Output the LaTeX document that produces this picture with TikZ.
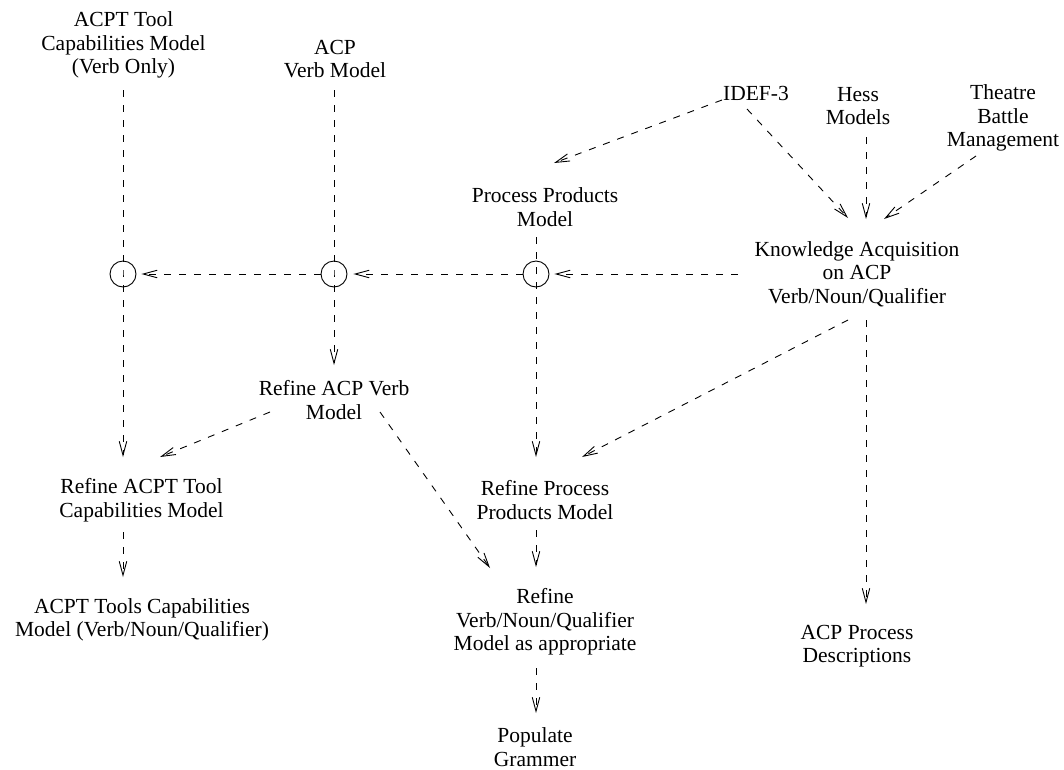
\documentclass[tikz,border=0pt]{standalone}
\usepackage{fontspec}
\setmainfont{Liberation Serif}
\usetikzlibrary{arrows.meta}
\begin{document}
\begin{tikzpicture}[x=1pt,y=-1pt,
  lbl/.style={align=center,inner sep=0pt,font=\fontsize{21.5}{23.5}\selectfont},
  dl/.style={line width=0.9pt,dash pattern=on 7pt off 8pt},
  arr/.style={dl,-{Straight Barb[length=14pt,width=7.5pt,line width=0.9pt]}},
  junc/.style={circle,draw,line width=0.9pt,minimum size=26pt,inner sep=0pt}]
\useasboundingbox (0,0) rectangle (1064,769);

% text nodes
\node[lbl] (A) at (123.5,45) {ACPT Tool\\Capabilities Model\\(Verb Only)};
\node[lbl] (B) at (335,59) {ACP\\Verb Model};
\node[lbl] (idef) at (756,93) {IDEF-3};
\node[lbl] (hess) at (858,106) {Hess\\Models};
\node[lbl] (tbm) at (1003,118) {Theatre\\Battle\\Management};
\node[lbl] (pp) at (545,207) {Process Products\\Model};
\node[lbl] (kn) at (857,274) {Knowledge Acquisition\\on ACP\\Verb/Noun/Qualifier};
\node[lbl] (rv) at (334,400) {Refine ACP Verb\\Model};
\node[lbl] (ra) at (141.5,500) {Refine ACPT Tool\\Capabilities Model};
\node[lbl] (rpp) at (545,500) {Refine Process\\Products Model};
\node[lbl] (tools) at (142,620) {ACPT Tools Capabilities\\Model (Verb/Noun/Qualifier)};
\node[lbl] (rvnq) at (545,622) {Refine\\Verb/Noun/Qualifier\\Model as appropriate};
\node[lbl] (desc) at (857,646) {ACP Process\\Descriptions};
\node[lbl] (pop) at (535,747) {Populate\\Grammer};

% junctions
\node[junc] (c1) at (123,274) {};
\node[junc] (c2) at (334,274) {};
\node[junc] (c3) at (536,274) {};

% connector end points
\coordinate (Ao) at (123,90);
\coordinate (raI) at (123,457);
\coordinate (Bo) at (334,90);
\coordinate (rvI) at (334,365);
\coordinate (ppo) at (536,237);
\coordinate (rppI) at (536,457);
\coordinate (idefo1) at (722,100);
\coordinate (ppI) at (554,163);
\coordinate (idefo2) at (747,109);
\coordinate (knI1) at (848,218);
\coordinate (hesso) at (866,137);
\coordinate (knI2) at (866,219);
\coordinate (tbmo) at (976,156);
\coordinate (knI3) at (884,219);
\coordinate (kno1) at (738,274);
\coordinate (kno2) at (848,320);
\coordinate (rppI2) at (582,457);
\coordinate (kno3) at (866,320);
\coordinate (descI) at (866,604);
\coordinate (rvo1) at (270,412);
\coordinate (raI2) at (160,457);
\coordinate (rvo2) at (380,412);
\coordinate (rvnqI1) at (490,568);
\coordinate (rao) at (123,532);
\coordinate (toolsI) at (123,577);
\coordinate (rppo) at (536,530);
\coordinate (rvnqI2) at (536,567);
\coordinate (rvnqo) at (536,668);
\coordinate (popI) at (536,713);

% connectors
\draw[arr] (Ao) -- (c1.center) -- (raI);
\draw[arr] (Bo) -- (c2.center) -- (rvI);
\draw[arr] (ppo) -- (c3.center) -- (rppI);
\draw[arr] (kno1) -- ([xshift=5pt]c3.east);
\draw[arr] (c3.west) -- ([xshift=6pt]c2.east);
\draw[arr] (c2.west) -- ([xshift=5pt]c1.east);
\draw[arr] (idefo1) -- (ppI);
\draw[arr] (idefo2) -- (knI1);
\draw[arr] (hesso) -- (knI2);
\draw[arr] (tbmo) -- (knI3);
\draw[arr] (kno2) -- (rppI2);
\draw[arr] (kno3) -- (descI);
\draw[arr] (rvo1) -- (raI2);
\draw[arr] (rvo2) -- (rvnqI1);
\draw[arr] (rao) -- (toolsI);
\draw[arr] (rppo) -- (rvnqI2);
\draw[arr] (rvnqo) -- (popI);
\end{tikzpicture}
\end{document}
